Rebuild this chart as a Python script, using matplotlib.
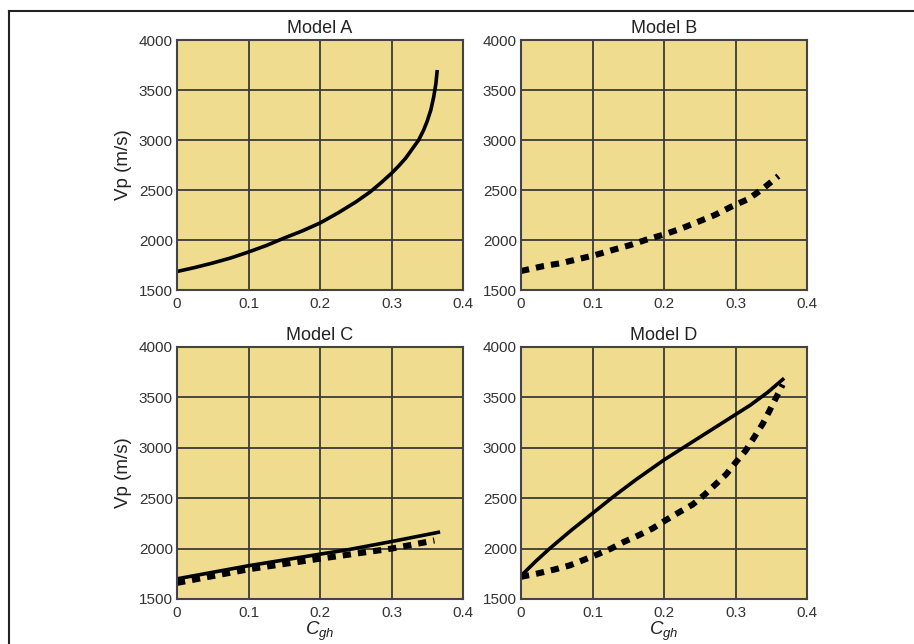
import matplotlib
matplotlib.use('Agg')
import matplotlib.pyplot as plt
from matplotlib.lines import Line2D
import numpy as np

plt.rcParams['font.family'] = ['Liberation Sans', 'DejaVu Sans']
plt.rcParams['mathtext.fontset'] = 'custom'
plt.rcParams['mathtext.rm'] = 'Liberation Sans'
plt.rcParams['mathtext.it'] = 'Liberation Sans:italic'

# Model A - solid
a_x = [0.0, 0.025, 0.05, 0.075, 0.1, 0.125, 0.15, 0.175, 0.2, 0.225, 0.25, 0.27, 0.285,
       0.3, 0.31, 0.32, 0.33, 0.338, 0.345, 0.35, 0.355, 0.359, 0.362, 0.364]
a_y = [1685, 1725, 1770, 1820, 1880, 1945, 2020, 2090, 2170, 2270, 2380, 2480, 2570,
       2667, 2740, 2820, 2920, 3000, 3100, 3190, 3300, 3430, 3560, 3700]

# Model B - dotted
b_x = [0.0, 0.032, 0.055, 0.079, 0.104, 0.128, 0.153, 0.177, 0.201, 0.225, 0.248, 0.271, 0.294, 0.318, 0.339, 0.36]
b_y = [1690, 1740, 1767, 1807, 1850, 1900, 1950, 2007, 2057, 2117, 2183, 2250, 2333, 2410, 2517, 2640]

# Model C - solid and dotted
c_sol_x = [0.0, 0.1, 0.2, 0.24, 0.3, 0.368]
c_sol_y = [1700, 1830, 1945, 1990, 2070, 2165]
c_dot_x = [0.0, 0.1, 0.2, 0.3, 0.36]
c_dot_y = [1660, 1795, 1900, 2000, 2080]

# Model D - solid and dotted
d_sol_x = [0.0, 0.02, 0.04, 0.07, 0.1, 0.13, 0.16, 0.2, 0.24, 0.28, 0.32, 0.345, 0.368]
d_sol_y = [1730, 1870, 2000, 2180, 2350, 2520, 2680, 2880, 3060, 3240, 3420, 3550, 3690]
d_dot_x = [0.0, 0.023, 0.047, 0.068, 0.086, 0.107, 0.126, 0.144, 0.163, 0.184, 0.202, 0.221,
           0.24, 0.256, 0.272, 0.287, 0.3, 0.314, 0.326, 0.338, 0.347, 0.356, 0.366]
d_dot_y = [1720, 1753, 1793, 1833, 1883, 1943, 2000, 2067, 2127, 2200, 2280, 2360,
           2437, 2530, 2637, 2737, 2853, 2970, 3103, 3237, 3360, 3487, 3627]

xticks = [0, 0.1, 0.2, 0.3, 0.4]
xlabels = ['0', '0.1', '0.2', '0.3', '0.4']
yticks = [1500, 2000, 2500, 3000, 3500, 4000]

W, H = 914, 644
fig = plt.figure(figsize=(W / 100, H / 100), dpi=100)

face = '#efdc8e'

def make_ax(left, top, right, bottom, title, ylabel=False, xlabel=False):
    ax = fig.add_axes([left / W, 1 - bottom / H, (right - left) / W, (bottom - top) / H])
    ax.set_facecolor(face)
    ax.set_xlim(0, 0.4)
    ax.set_ylim(1500, 4000)
    ax.set_xticks(xticks)
    ax.set_xticklabels(xlabels)
    ax.set_yticks(yticks)
    ax.tick_params(length=0, labelsize=11, labelcolor='#333333')
    ax.tick_params(axis='x', pad=5)
    ax.tick_params(axis='y', pad=3)
    ax.grid(True, color='#3a3a3a', linewidth=1.3)
    ax.set_axisbelow(True)
    for s in ax.spines.values():
        s.set_color('#444444')
        s.set_linewidth(1.5)
    ax.set_title(title, fontsize=13, pad=5, color='#222222')
    if ylabel:
        ax.set_ylabel('Vp (m/s)', fontsize=13.5, labelpad=5, color='#222222')
    if xlabel:
        ax.set_xlabel('$C_{gh}$', fontsize=13.5, labelpad=0, color='#222222')
    return ax

def solid(ax, x, y):
    ax.plot(x, y, color='black', linewidth=2.6, solid_capstyle='butt', solid_joinstyle='round')

def dotted(ax, x, y):
    ax.plot(x, y, color='black', linewidth=4.4, dashes=(1.35, 1.15), dash_capstyle='butt')

axA = make_ax(177, 40, 463, 290, 'Model A', ylabel=True)
solid(axA, a_x, a_y)

axB = make_ax(521, 40, 807, 290, 'Model B')
dotted(axB, b_x, b_y)

axC = make_ax(177, 347, 463, 599, 'Model C', ylabel=True, xlabel=True)
solid(axC, c_sol_x, c_sol_y)
dotted(axC, c_dot_x, c_dot_y)

axD = make_ax(521, 347, 807, 599, 'Model D', xlabel=True)
solid(axD, d_sol_x, d_sol_y)
dotted(axD, d_dot_x, d_dot_y)

# page frame
fig.add_artist(Line2D([8.5 / W, 8.5 / W], [0, 1 - 11 / H], color='#222222', linewidth=1.5))
fig.add_artist(Line2D([8.5 / W, 1], [1 - 11 / H, 1 - 11 / H], color='#222222', linewidth=1.5))

fig.savefig('out.png', dpi=100)
